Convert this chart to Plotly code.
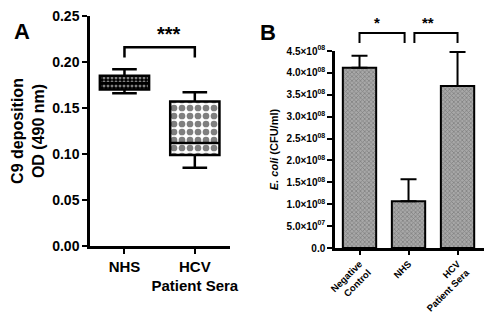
import plotly.graph_objects as go

# ---------------- data ----------------
groups_a = ["NHS", "HCV<br>Patient Sera"]
a_lower = [0.166, 0.085]
a_q1 = [0.170, 0.099]
a_median = [0.177, 0.112]
a_q3 = [0.185, 0.157]
a_upper = [0.192, 0.167]

groups_b = ["Negative<br>Control", "NHS", "HCV<br>Patient Sera"]
b_mean = [4.12e8, 1.07e8, 3.70e8]
b_err = [0.27e8, 0.50e8, 0.78e8]

a_yticks = [0.00, 0.05, 0.10, 0.15, 0.20, 0.25]
b_ytick_vals = [0, 5e7, 1e8, 1.5e8, 2e8, 2.5e8, 3e8, 3.5e8, 4e8, 4.5e8]
b_ytick_text = ["0.0", "5.0×10<sup>07</sup>", "1.0×10<sup>08</sup>", "1.5×10<sup>08</sup>",
                "2.0×10<sup>08</sup>", "2.5×10<sup>08</sup>", "3.0×10<sup>08</sup>",
                "3.5×10<sup>08</sup>", "4.0×10<sup>08</sup>", "4.5×10<sup>08</sup>"]

# significance brackets: (x_left, x_right, y_leg, y_top, label)
sig_a = [(0, 1, 0.205, 0.216, "***")]
sig_b = [(0, 0.92, 4.68e8, 4.91e8, "*"), (1.12, 2.0, 4.68e8, 4.91e8, "**")]

W, H = 484, 312
FONT = "Liberation Sans, Arial, sans-serif"

# axes geometry
ax_a_dom = [90 / W, 230 / W]
ay_a_dom = [66 / H, 296 / H]
ax_a_rng = [-0.49, 1.5]
ay_a_rng = [0, 0.25]
ax_b_dom = [335 / W, 1.0]
ay_b_dom = [64 / H, 261 / H]
ax_b_rng = [-0.5, 2.54]
ay_b_rng = [0, 4.5e8]


def to_paper(v, dom, rng):
    return dom[0] + (v - rng[0]) / (rng[1] - rng[0]) * (dom[1] - dom[0])


def bold(s):
    return "<br>".join(f"<b>{p}</b>" for p in s.split("<br>"))


fig = go.Figure()

# ---- panel A: patterned boxes ----
patterns = [
    dict(shape=".", fgcolor="white", bgcolor="black", size=4, solidity=0.4),
    dict(shape=".", fgcolor="black", bgcolor="white", size=8, solidity=0.55),
]
for i in range(len(groups_a)):
    fig.add_trace(go.Bar(
        x=[i], y=[a_q3[i] - a_q1[i]], base=[a_q1[i]], width=0.7,
        marker=dict(color="white", pattern=patterns[i], line=dict(width=0)),
        xaxis="x", yaxis="y", showlegend=False, hoverinfo="skip"))
    fig.add_trace(go.Box(
        x=[i], q1=[a_q1[i]], median=[a_median[i]], q3=[a_q3[i]],
        lowerfence=[a_lower[i]], upperfence=[a_upper[i]],
        width=0.7, whiskerwidth=0.5,
        fillcolor="rgba(0,0,0,0)", line=dict(color="black", width=2.5),
        xaxis="x", yaxis="y", showlegend=False, boxpoints=False))

# ---- panel B: bars ----
fig.add_trace(go.Bar(
    x=list(range(len(groups_b))), y=b_mean, width=0.68,
    marker=dict(color="#8c8c8c",
                pattern=dict(shape="x", fgcolor="#5a5a5a", bgcolor="#a8a8a8", size=3, solidity=0.45),
                line=dict(color="black", width=2)),
    error_y=dict(type="data", symmetric=False, array=b_err, arrayminus=[0] * len(b_err),
                 color="black", thickness=2, width=8),
    xaxis="x2", yaxis="y2", showlegend=False))

shapes = []
annots = []
for (xl, xr, yl, yt, lab) in sig_a:
    px = [to_paper(xl, ax_a_dom, ax_a_rng), to_paper(xr, ax_a_dom, ax_a_rng)]
    py = [to_paper(yl, ay_a_dom, ay_a_rng), to_paper(yt, ay_a_dom, ay_a_rng)]
    shapes.append(dict(type="path", xref="paper", yref="paper",
                       path=f"M{px[0]},{py[0]} L{px[0]},{py[1]} L{px[1]},{py[1]} L{px[1]},{py[0]}",
                       line=dict(color="black", width=2.5)))
    annots.append(dict(x=(px[0] + px[1]) / 2 + 0.02, y=py[1], xref="paper", yref="paper",
                       text=f"<b>{lab}</b>", showarrow=False, yanchor="bottom",
                       font=dict(size=20, color="black", family=FONT)))
for (xl, xr, yl, yt, lab) in sig_b:
    px = [to_paper(xl, ax_b_dom, ax_b_rng), to_paper(xr, ax_b_dom, ax_b_rng)]
    py = [to_paper(yl, ay_b_dom, ay_b_rng), to_paper(yt, ay_b_dom, ay_b_rng)]
    shapes.append(dict(type="path", xref="paper", yref="paper",
                       path=f"M{px[0]},{py[0]} L{px[0]},{py[1]} L{px[1]},{py[1]} L{px[1]},{py[0]}",
                       line=dict(color="black", width=2)))
    annots.append(dict(x=(px[0] + px[1]) / 2, y=py[1], xref="paper", yref="paper",
                       text=f"<b>{lab}</b>", showarrow=False, yanchor="bottom",
                       font=dict(size=15, color="black", family=FONT)))

annots.append(dict(x=12 / W, y=1 - 17 / H, xref="paper", yref="paper", text="<b>A</b>", showarrow=False,
                   font=dict(size=22, color="black", family=FONT)))
annots.append(dict(x=268 / W, y=1 - 18 / H, xref="paper", yref="paper", text="<b>B</b>", showarrow=False,
                   font=dict(size=22, color="black", family=FONT)))

axis_common = dict(showline=True, linecolor="black", linewidth=2.5, ticks="outside",
                   tickcolor="black", tickwidth=2, showgrid=False, zeroline=False,
                   automargin=False)

fig.update_layout(
    width=W, height=H, margin=dict(l=0, r=0, t=0, b=0),
    paper_bgcolor="white", plot_bgcolor="white",
    font=dict(family=FONT, color="black"),
    barmode="overlay",
    shapes=shapes, annotations=annots,
    xaxis=dict(domain=ax_a_dom, range=ax_a_rng, tickvals=[0, 1], ticktext=[bold(g) for g in groups_a],
               anchor="y", tickfont=dict(size=15), ticklen=5, **axis_common),
    yaxis=dict(domain=ay_a_dom, range=ay_a_rng, tickvals=a_yticks,
               ticktext=[bold(f"{v:.2f}") for v in a_yticks], anchor="x",
               tickfont=dict(size=14), ticklen=5,
               title=dict(text="<b>C9 deposition</b><br><b>OD (490 nm)</b>", standoff=4,
                          font=dict(size=16)), **axis_common),
    xaxis2=dict(domain=ax_b_dom, range=ax_b_rng, tickvals=[0, 1, 2], ticktext=[bold(g) for g in groups_b],
                tickangle=-45, anchor="y2", tickfont=dict(size=9.5), ticklen=4, **axis_common),
    yaxis2=dict(domain=ay_b_dom, range=ay_b_rng, tickvals=b_ytick_vals, ticktext=[bold(t) for t in b_ytick_text],
                anchor="x2", tickfont=dict(size=10), ticklen=5,
                title=dict(text="<b><i>E. coli</i> (CFU/ml)</b>", standoff=6,
                           font=dict(size=11)), **axis_common),
)

fig.write_html("out.html")
